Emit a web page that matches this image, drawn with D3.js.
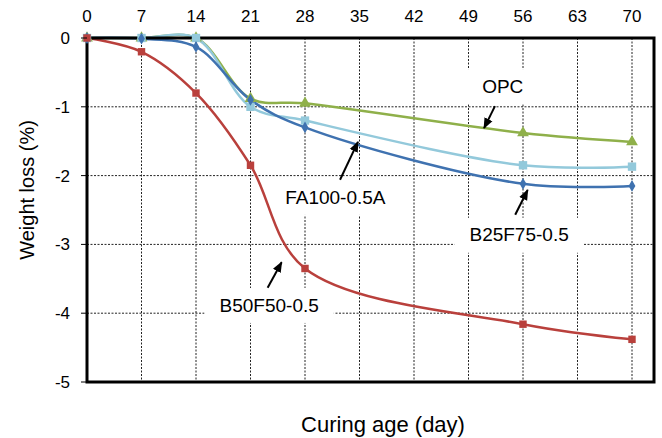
<!DOCTYPE html>
<html>
<head>
<meta charset="utf-8">
<script src="https://d3js.org/d3.v7.min.js"></script>
<style>
  body { margin: 0; background: #fff; }
  text { font-family: "Liberation Sans", Arial, sans-serif; fill: #000; }
</style>
</head>
<body>
<script>
// curing ages (days) with measured points
var days = [0, 7, 14, 21, 28, 56, 70];
var xTicks = [0, 7, 14, 21, 28, 35, 42, 49, 56, 63, 70];
var yTicks = [0, -1, -2, -3, -4, -5];

// weight loss (%) per mix
var fa100 = [0, -0.01, -0.13, -0.9, -1.3, -2.12, -2.15];
var b50f50 = [0, -0.2, -0.8, -1.85, -3.35, -4.16, -4.38];
var b25f75 = [0, 0, 0, -1.0, -1.2, -1.85, -1.87];
var opc = [0, 0, 0, -0.88, -0.95, -1.38, -1.51];

// text labels with arrows (data units)
var labels = [
  {text: "OPC", x: 53.4, y: -0.70, from: [52.4, -0.99], to: [51.0, -1.31]},
  {text: "FA100-0.5A", x: 31.9, y: -2.31, from: [32.5, -2.06], to: [34.8, -1.51]},
  {text: "B50F50-0.5", x: 23.4, y: -3.88, from: [23.2, -3.63], to: [25.0, -3.26]},
  {text: "B25F75-0.5", x: 55.5, y: -2.86, from: [55.0, -2.57], to: [56.6, -2.21]}
];

var W = 662, H = 438;
var pLeft = 87, pRight = 654, pTop = 38, pBottom = 382;

var svg = d3.select("body").append("svg")
    .attr("width", W).attr("height", H);

var x = d3.scaleLinear().domain([0, 70]).range([pLeft, 632]);
var y = d3.scaleLinear().domain([0, -5]).range([pTop, pBottom]);

// grid
svg.append("g").selectAll("line").data(xTicks.slice(1)).enter().append("line")
    .attr("x1", d => x(d)).attr("x2", d => x(d))
    .attr("y1", pTop).attr("y2", pBottom)
    .attr("stroke", "#222").attr("stroke-width", 1).attr("stroke-dasharray", "2,1.5");
svg.append("g").selectAll("line").data(yTicks.slice(1, 5)).enter().append("line")
    .attr("x1", pLeft).attr("x2", pRight)
    .attr("y1", d => y(d)).attr("y2", d => y(d))
    .attr("stroke", "#222").attr("stroke-width", 1).attr("stroke-dasharray", "2,1.5");

// label white boxes
var lbl = svg.append("g");
labels.forEach(function(l) {
  var t = lbl.append("text")
      .attr("x", x(l.x)).attr("y", y(l.y))
      .attr("text-anchor", "middle").attr("dy", "0.35em")
      .style("font-size", "19px").text(l.text);
  var w = t.node().getComputedTextLength();
  lbl.insert("rect", "text")
      .attr("x", x(l.x) - w / 2 - 15).attr("y", y(l.y) - 17)
      .attr("width", w + 30).attr("height", 35)
      .attr("fill", "#fff");
});

// series
var series = [
  {vals: opc, color: "#8FB04A", marker: "triangle", size: 60},
  {vals: b25f75, color: "#93C9DB", marker: "square", size: 70},
  {vals: fa100, color: "#3F72B0", marker: "diamond", size: 40},
  {vals: b50f50, color: "#B9403C", marker: "square", size: 55}
];
var line = d3.line().x(d => x(d[0])).y(d => y(d[1])).curve(d3.curveCatmullRom.alpha(0.5));
var sym = {triangle: d3.symbolTriangle, square: d3.symbolSquare, diamond: d3.symbolDiamond};

series.forEach(function(s) {
  var pts = days.map((d, i) => [d, s.vals[i]]);
  svg.append("path").datum(pts)
      .attr("d", line).attr("fill", "none")
      .attr("stroke", s.color).attr("stroke-width", 2.5);
});

// frame
svg.append("rect")
    .attr("x", pLeft).attr("y", pTop)
    .attr("width", pRight - pLeft).attr("height", pBottom - pTop)
    .attr("fill", "none").attr("stroke", "#000").attr("stroke-width", 3);

series.forEach(function(s) {
  var pts = days.map((d, i) => [d, s.vals[i]]);
  svg.append("g").selectAll("path").data(pts).enter().append("path")
      .attr("transform", d => "translate(" + x(d[0]) + "," + y(d[1]) + ")")
      .attr("d", d3.symbol().type(sym[s.marker]).size(s.size))
      .attr("fill", s.color);
});

// y axis ticks
svg.append("g").selectAll("line").data(yTicks).enter().append("line")
    .attr("x1", pLeft - 6).attr("x2", pLeft)
    .attr("y1", d => y(d)).attr("y2", d => y(d))
    .attr("stroke", "#000").attr("stroke-width", 1);
svg.append("g").selectAll("text").data(yTicks).enter().append("text")
    .attr("x", 70).attr("y", d => y(d)).attr("dy", "0.35em")
    .attr("text-anchor", "end").style("font-size", "17px")
    .text(d => d);
svg.append("g").selectAll("text").data(xTicks).enter().append("text")
    .attr("x", d => x(d)).attr("y", 22)
    .attr("text-anchor", "middle").style("font-size", "17px")
    .text(d => d);

// titles
svg.append("text").attr("x", 383).attr("y", 432)
    .attr("text-anchor", "middle").style("font-size", "22px")
    .text("Curing age (day)");
svg.append("text").attr("transform", "translate(34,190) rotate(-90)")
    .attr("text-anchor", "middle").style("font-size", "20px")
    .text("Weight loss (%)");

// arrows
svg.append("defs").append("marker")
    .attr("id", "ah").attr("viewBox", "0 0 10 10")
    .attr("refX", 9).attr("refY", 5)
    .attr("markerWidth", 5.5).attr("markerHeight", 5.5)
    .attr("orient", "auto")
  .append("path").attr("d", "M0,1L10,5L0,9z").attr("fill", "#000");
svg.append("g").selectAll("line").data(labels).enter().append("line")
    .attr("x1", d => x(d.from[0])).attr("y1", d => y(d.from[1]))
    .attr("x2", d => x(d.to[0])).attr("y2", d => y(d.to[1]))
    .attr("stroke", "#000").attr("stroke-width", 2)
    .attr("marker-end", "url(#ah)");
</script>
</body>
</html>
